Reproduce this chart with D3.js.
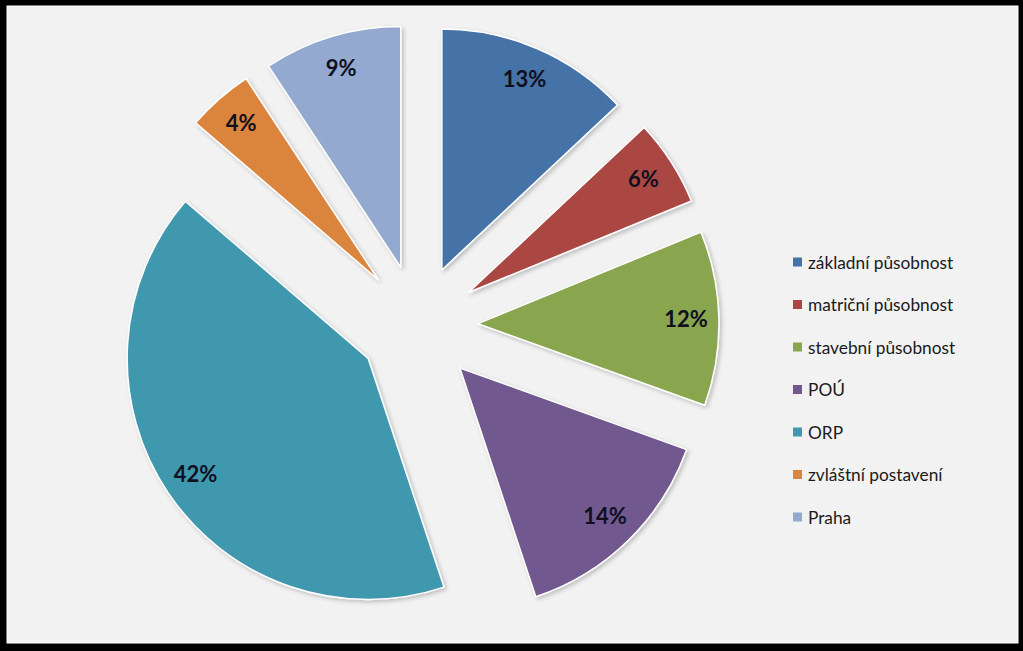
<!DOCTYPE html>
<html>
<head>
<meta charset="utf-8">
<script src="https://cdn.jsdelivr.net/npm/d3@7"></script>
<style>
  html, body { margin: 0; padding: 0; background: #000; }
  svg { display: block; }
</style>
</head>
<body>
<svg id="chart" width="1023" height="651"></svg>
<script>
const categories = ["základní působnost", "matriční působnost", "stavební působnost", "POÚ", "ORP", "zvláštní postavení", "Praha"];
const values = [13.0, 5.8, 11.7, 14.4, 41.4, 4.45, 9.25];
const labels = ["13%", "6%", "12%", "14%", "42%", "4%", "9%"];
const colors = ["#4572A7", "#AA4643", "#89A54E", "#71588F", "#4198AF", "#DB843D", "#93A9CF"];

const W = 1023, H = 651;
const svg = d3.select("#chart");

const defs = svg.append("defs");
const f = defs.append("filter").attr("id", "shadow").attr("x", "-20%").attr("y", "-20%").attr("width", "140%").attr("height", "140%");
f.append("feDropShadow").attr("dx", 2).attr("dy", 2).attr("stdDeviation", 2).attr("flood-color", "#000").attr("flood-opacity", 0.22);

// frame
svg.append("rect").attr("x", 0).attr("y", 0).attr("width", W).attr("height", H).attr("fill", "#000");
svg.append("rect").attr("x", 7).attr("y", 6).attr("width", 1011).attr("height", 637)
  .attr("fill", "#f2f2f2").attr("stroke", "#ffffff").attr("stroke-width", 1);

const cx = 418, cy = 325, r = 241, explode = 60, labelR = 208;

const pie = d3.pie().sort(null).value(d => d)(values);
const arc = d3.arc().innerRadius(0).outerRadius(r);

const g = svg.append("g").attr("transform", `translate(${cx},${cy})`);

const slices = g.selectAll("g.slice").data(pie).enter().append("g")
  .attr("class", "slice")
  .attr("transform", d => {
    const a = (d.startAngle + d.endAngle) / 2;
    return `translate(${Math.sin(a) * explode},${-Math.cos(a) * explode})`;
  });

slices.append("path")
  .attr("d", arc)
  .attr("fill", (d, i) => colors[i])
  .attr("stroke", "#ffffff")
  .attr("stroke-width", 1.5)
  .attr("stroke-linejoin", "round")
  .attr("filter", "url(#shadow)");

slices.append("text")
  .attr("x", d => Math.sin((d.startAngle + d.endAngle) / 2) * labelR)
  .attr("y", d => -Math.cos((d.startAngle + d.endAngle) / 2) * labelR - 1)
  .attr("text-anchor", "middle")
  .attr("dominant-baseline", "central")
  .attr("font-family", "Lato, 'Open Sans', sans-serif")
  .attr("font-weight", "bold")
  .attr("font-size", 22)
  .attr("fill", "#0f0f1e")
  .text((d, i) => labels[i]);

// legend
const lg = svg.append("g").attr("transform", "translate(793,262)");
const rows = lg.selectAll("g").data(categories).enter().append("g")
  .attr("transform", (d, i) => `translate(0,${i * 42.5})`);
rows.append("rect").attr("x", 0).attr("y", -4.5).attr("width", 9).attr("height", 9)
  .attr("fill", (d, i) => colors[i]);
rows.append("text").attr("x", 15).attr("y", 0)
  .attr("dominant-baseline", "central")
  .attr("font-family", "Lato, 'Open Sans', sans-serif")
  .attr("font-size", 17.3)
  .attr("fill", "#1a1a1a")
  .text(d => d);
</script>
</body>
</html>
